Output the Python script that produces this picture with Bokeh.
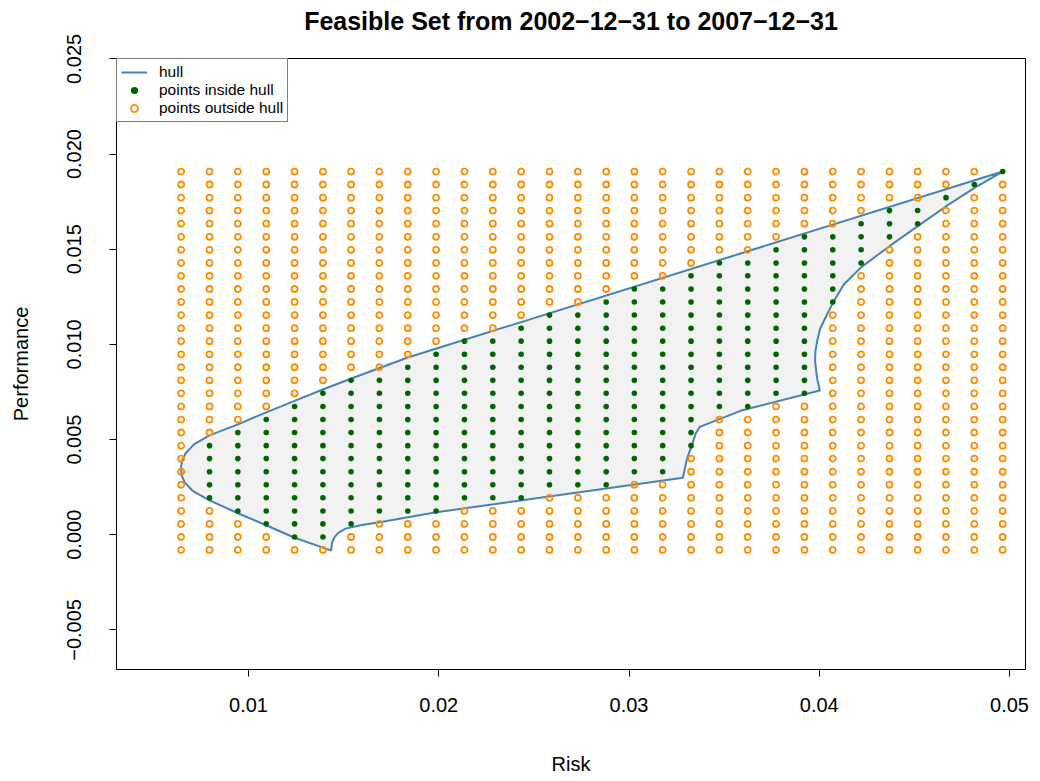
from bokeh.plotting import figure
from bokeh.models import Range1d, FixedTicker, Legend, LegendItem, LinearAxis
from bokeh.embed import file_html
from bokeh.resources import INLINE

# Grid of candidate portfolios (risk, performance)
risk_grid = [0.00646, 0.00795, 0.00944, 0.01093, 0.01242, 0.01391, 0.01539, 0.01688,
             0.01837, 0.01986, 0.02135, 0.02284, 0.02433, 0.02582, 0.02731, 0.02880,
             0.03028, 0.03177, 0.03326, 0.03475, 0.03624, 0.03773, 0.03922, 0.04071,
             0.04220, 0.04369, 0.04517, 0.04666, 0.04815, 0.04964]
perf_grid = [-0.00080, -0.00012, 0.00057, 0.00125, 0.00194, 0.00263, 0.00331, 0.00400,
             0.00468, 0.00537, 0.00605, 0.00674, 0.00743, 0.00811, 0.00880, 0.00948,
             0.01017, 0.01085, 0.01154, 0.01223, 0.01291, 0.01360, 0.01428, 0.01497,
             0.01565, 0.01634, 0.01703, 0.01771, 0.01840, 0.01908]

# For each risk column: lowest / highest performance row lying inside the hull
inside_lo = [None, 4, 3, 2, 1, 1, 2, 3, 3, 3, 4, 4, 4, 5, 5, 5, 6, 6, 8, 11,
             11, 12, 12, 19, 22, 24, 25, 27, 28, 29]
inside_hi = [None, 8, 9, 10, 11, 12, 13, 13, 14, 15, 16, 16, 17, 18, 18, 19, 20, 20, 21, 22,
             22, 23, 24, 24, 25, 26, 26, 27, 28, 29]

# Boundary of the feasible set
hull_risk = [0.04964, 0.01837, 0.01689, 0.01540, 0.01391, 0.01242, 0.01093, 0.00944,
             0.00795, 0.00713, 0.00669, 0.00649, 0.00645, 0.00649, 0.00664, 0.00706,
             0.00795, 0.00944, 0.01093, 0.01242, 0.01391, 0.01434,
             0.01439, 0.01452, 0.01473, 0.01510, 0.01589, 0.01689, 0.01987,
             0.03283, 0.03306, 0.03331, 0.03350, 0.03372, 0.03586,
             0.04003, 0.03988, 0.03978, 0.03980, 0.03989, 0.04004, 0.04024, 0.04071,
             0.04129, 0.04221, 0.04369, 0.04518, 0.04667, 0.04816]
hull_perf = [0.01908, 0.00931, 0.00876, 0.00821, 0.00763, 0.00703, 0.00643, 0.00580,
             0.00522, 0.00475, 0.00428, 0.00383, 0.00346, 0.00310, 0.00275, 0.00231,
             0.00181, 0.00113, 0.00050, -0.00016, -0.00068, -0.00083,
             -0.00042, -0.00013, 0.00011, 0.00032, 0.00050, 0.00066, 0.00118,
             0.00299, 0.00404, 0.00472, 0.00530, 0.00567, 0.00651,
             0.00758, 0.00825, 0.00913, 0.00965, 0.01018, 0.01081, 0.01123, 0.01217,
             0.01315, 0.01406, 0.01516, 0.01621, 0.01726, 0.01822]

x_ticks = [0.01, 0.02, 0.03, 0.04, 0.05]
x_tick_labels = ["0.01", "0.02", "0.03", "0.04", "0.05"]
y_ticks = [-0.005, 0.0, 0.005, 0.010, 0.015, 0.020, 0.025]
y_tick_labels = ["\u22120.005", "0.000", "0.005", "0.010", "0.015", "0.020", "0.025"]

TITLE = "Feasible Set from 2002\u221212\u221231 to 2007\u221212\u221231"
FONT = "Liberation Sans"

in_x, in_y, out_x, out_y = [], [], [], []
for i, rx in enumerate(risk_grid):
    lo, hi = inside_lo[i], inside_hi[i]
    for j, py in enumerate(perf_grid):
        if lo is not None and lo <= j <= hi:
            in_x.append(rx)
            in_y.append(py)
        else:
            out_x.append(rx)
            out_y.append(py)

p = figure(width=1040, height=781, output_backend="svg", toolbar_location=None,
           x_range=Range1d(0.00306, 0.05084), y_range=Range1d(-0.00708, 0.02502),
           min_border_left=116, min_border_right=15, min_border_top=58,
           min_border_bottom=112)

p.outline_line_color = "black"
p.outline_line_width = 1
p.xgrid.visible = False
p.ygrid.visible = False
p.background_fill_color = "white"
p.border_fill_color = "white"

x_axis = p.below[0]
y_axis = p.left[0]

for ax in (x_axis, y_axis):
    ax.axis_line_color = None
    ax.major_tick_in = 0
    ax.major_tick_out = 7
    ax.major_tick_line_color = "black"
    ax.minor_tick_line_color = None
    ax.major_label_text_font = FONT
    ax.major_label_text_font_size = "20px"
    ax.major_label_text_color = "black"
    ax.axis_label_text_font = FONT
    ax.axis_label_text_font_size = "20px"
    ax.axis_label_text_font_style = "normal"
    ax.axis_label_text_color = "black"

x_axis.ticker = FixedTicker(ticks=x_ticks)
x_axis.major_label_overrides = dict(zip(x_ticks, x_tick_labels))
x_axis.axis_label = "Risk"
x_axis.major_label_standoff = 21
x_axis.axis_label_standoff = 38

y_axis.ticker = FixedTicker(ticks=y_ticks)
y_axis.major_label_overrides = dict(zip(y_ticks, y_tick_labels))
y_axis.major_label_orientation = "vertical"
y_axis.axis_label = "Performance"
y_axis.major_label_standoff = 28
y_axis.axis_label_standoff = 33

# main title: label of a bare axis above the frame, centred over the frame
title_axis = LinearAxis(ticker=FixedTicker(ticks=[]), axis_line_color=None,
                        major_tick_out=0, major_tick_in=0, minor_tick_out=0,
                        minor_tick_in=0, major_label_standoff=0,
                        axis_label=TITLE, axis_label_standoff=24,
                        axis_label_text_font=FONT, axis_label_text_font_size="25px",
                        axis_label_text_font_style="bold",
                        axis_label_text_color="black")
p.add_layout(title_axis, "above")

# feasible region
p.patch(hull_risk, hull_perf, fill_color="#F2F2F2", line_color=None)
hull_line = p.line(hull_risk + hull_risk[:1], hull_perf + hull_perf[:1],
                   line_color="#4682B4", line_width=2)

outside = p.scatter(out_x, out_y, marker="circle", size=6, fill_color=None,
                    line_color="#FF8C00", line_width=1.8)
inside = p.scatter(in_x, in_y, marker="circle", size=5.6, fill_color="#006400",
                   line_color=None)

legend = Legend(items=[
    LegendItem(label="hull", renderers=[hull_line]),
    LegendItem(label="points inside hull", renderers=[inside]),
    LegendItem(label="points outside hull", renderers=[outside]),
], location="top_left")
legend.margin = 0
legend.padding = 4
legend.spacing = 0
legend.glyph_width = 26
legend.glyph_height = 18
legend.label_height = 18
legend.label_standoff = 12
legend.label_text_font = FONT
legend.label_text_font_size = "15.5px"
legend.label_text_color = "black"
legend.border_line_color = "black"
legend.border_line_width = 1
legend.background_fill_color = "white"
legend.background_fill_alpha = 1
p.add_layout(legend)

open("out.html", "w").write(file_html(p, INLINE))
